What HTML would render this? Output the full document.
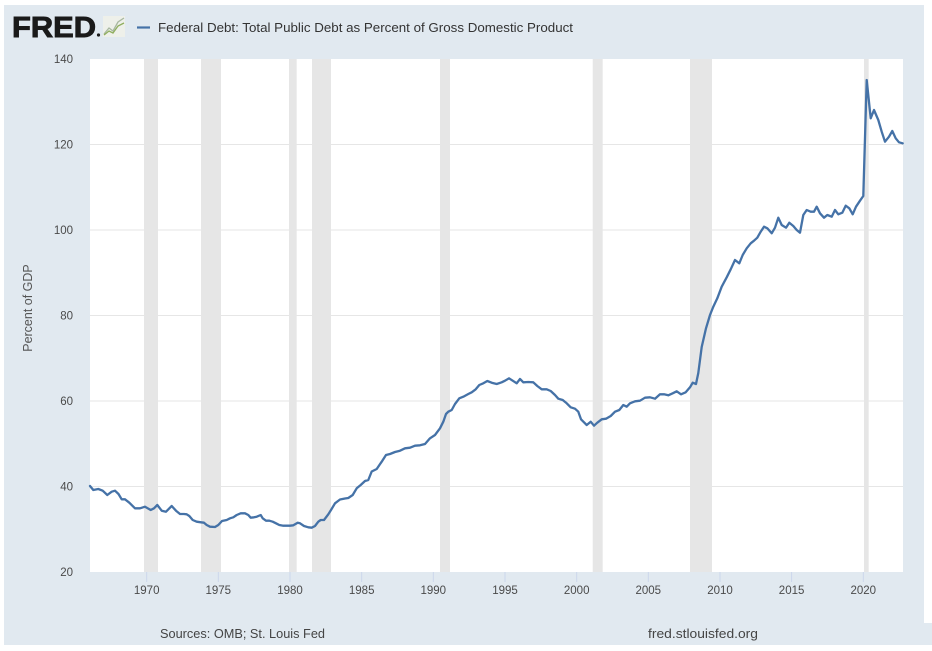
<!DOCTYPE html>
<html>
<head>
<meta charset="utf-8">
<style>
  html,body{margin:0;padding:0;background:#fff;}
  svg{display:block;}
  text{font-family:"Liberation Sans", sans-serif;}
</style>
</head>
<body>
<svg width="932" height="651" viewBox="0 0 932 651" xmlns="http://www.w3.org/2000/svg">
  <rect x="0" y="0" width="932" height="651" fill="#ffffff"/>
  <rect x="4" y="5" width="920" height="640" fill="#e1e9f0"/>
  <rect x="924" y="623" width="8" height="22" fill="#e1e9f0"/>

  <!-- Header -->
  <text x="12" y="37" font-size="29" font-weight="bold" fill="#1a1a1a" stroke="#1a1a1a" stroke-width="0.9" textLength="84" lengthAdjust="spacingAndGlyphs">FRED</text>
  <circle cx="98.5" cy="35" r="1.6" fill="#1a1a1a"/>
  <rect x="103" y="16" width="22" height="21" fill="#eef0ea"/>
  <polyline points="104,34 109,28 113,31 118,22 124,18" fill="none" stroke="#a8b8a0" stroke-width="1.3"/>
  <polyline points="104,35 109,31 113,33 118,26 124,23" fill="none" stroke="#8fae5e" stroke-width="1.3"/>
  <line x1="137" y1="27.5" x2="150" y2="27.5" stroke="#4572a7" stroke-width="2.2"/>
  <text x="158" y="32" font-size="13" fill="#333" textLength="415" lengthAdjust="spacingAndGlyphs">Federal Debt: Total Public Debt as Percent of Gross Domestic Product</text>

  <!-- Plot area -->
  <rect x="90" y="59" width="813" height="513" fill="#ffffff"/>

  <!-- Recession bands -->
  <g fill="#e6e6e6">
    <rect x="144" y="59" width="14" height="513"/>
    <rect x="201" y="59" width="20" height="513"/>
    <rect x="289" y="59" width="7.7" height="513"/>
    <rect x="312" y="59" width="19" height="513"/>
    <rect x="440" y="59" width="10" height="513"/>
    <rect x="592.7" y="59" width="10" height="513"/>
    <rect x="690" y="59" width="22" height="513"/>
    <rect x="864" y="59" width="4.7" height="513"/>
  </g>

  <!-- Grid lines -->
  <g stroke="#e6e6e6" stroke-width="1">
    <line x1="90" y1="144.5" x2="903" y2="144.5"/>
    <line x1="90" y1="230" x2="903" y2="230"/>
    <line x1="90" y1="315.5" x2="903" y2="315.5"/>
    <line x1="90" y1="401" x2="903" y2="401"/>
    <line x1="90" y1="486.5" x2="903" y2="486.5"/>
  </g>

  <!-- X ticks -->
  <g stroke="#ccd6eb" stroke-width="1">
    <line x1="146.7" y1="572" x2="146.7" y2="582"/>
    <line x1="218.3" y1="572" x2="218.3" y2="582"/>
    <line x1="290" y1="572" x2="290" y2="582"/>
    <line x1="361.7" y1="572" x2="361.7" y2="582"/>
    <line x1="433.3" y1="572" x2="433.3" y2="582"/>
    <line x1="505" y1="572" x2="505" y2="582"/>
    <line x1="576.7" y1="572" x2="576.7" y2="582"/>
    <line x1="648.3" y1="572" x2="648.3" y2="582"/>
    <line x1="720" y1="572" x2="720" y2="582"/>
    <line x1="791.6" y1="572" x2="791.6" y2="582"/>
    <line x1="863.3" y1="572" x2="863.3" y2="582"/>
  </g>

  <!-- X labels -->
  <g font-size="11.5" fill="#4a4a4a" text-anchor="middle">
    <text x="146.7" y="594">1970</text>
    <text x="218.3" y="594">1975</text>
    <text x="290" y="594">1980</text>
    <text x="361.7" y="594">1985</text>
    <text x="433.3" y="594">1990</text>
    <text x="505" y="594">1995</text>
    <text x="576.7" y="594">2000</text>
    <text x="648.3" y="594">2005</text>
    <text x="720" y="594">2010</text>
    <text x="791.6" y="594">2015</text>
    <text x="863.3" y="594">2020</text>
  </g>

  <!-- Y labels -->
  <g font-size="11.5" fill="#4a4a4a" text-anchor="end">
    <text x="73" y="63">140</text>
    <text x="73" y="148.5">120</text>
    <text x="73" y="234">100</text>
    <text x="73" y="319.5">80</text>
    <text x="73" y="405">60</text>
    <text x="73" y="490.5">40</text>
    <text x="73" y="576">20</text>
  </g>
  <text transform="translate(32,308) rotate(-90)" font-size="12.5" fill="#555" text-anchor="middle">Percent of GDP</text>

  <!-- Series -->
  <polyline fill="none" stroke="#4572a7" stroke-width="2.3" stroke-linejoin="round" stroke-linecap="round" points="
90,486 93.3,490 98.3,489 102.7,490.7 107.3,495 111.7,491.7 115,490.7 118.5,494 121.7,499.3 125,499.3 129.3,502.7 135,508.3 140,508.3 145,506.7 150.7,510 154,508.3 157.3,505 161.7,510.7 166,511.7 171.7,506 176,510.7 180,514 184,514 186.7,514.3 189.3,516 192.7,520 196.7,521.7 201,522.3 204,522.7 206.7,525 210,526.7 215,527 218.3,525 222,521 226.7,520 230,518.3 233.3,517.3 236.7,515 240.7,513.3 245,513.3 248.3,515 250.7,517.7 254,517.3 256.7,516.7 260.7,515 262.7,518.3 266,520.7 269.3,520.7 272.7,521.7 276,523.3 279.3,525 283.3,525.7 290,525.7 293.3,525.3 297.7,522.7 300,523.3 304,526 308.3,527.3 311.7,527.7 315,526 318.3,521.7 320.7,520 324,520 328.3,514.3 331,510 335,503.3 340,499.5 345,498.5 348.3,498 352.7,495 356.7,488.3 360.7,485 365,481 368.3,480 371.7,471.5 376.7,469 381.7,461.7 386,455 390,454 395,452 400,450.7 405,448.3 410,447.7 415,445.7 420,445.3 425,444 430,438.3 435,435 440,428.3 443.3,421.7 446,414 448.3,411.7 451.7,410 455,404 459.3,398.3 463.3,396.7 468.3,394 471.7,392.3 475.7,389.3 479.3,385 483.3,383.3 487.3,381 491.7,382.7 496.7,384 501.7,382.3 505,380.7 509,378.3 512.7,380.7 516.7,383.3 520,379 523.3,382.3 528.3,382 533.3,382.3 537.3,386 541.7,389.3 546.7,389.3 550.7,391 555,395 558.3,398.7 562.7,400 566.7,403.3 570.7,407.3 575,408.7 578.3,411.7 581,419.3 584,422.3 586.7,425 590.7,421.7 594,425.7 597.3,422.7 601.7,419.3 606,418.7 610.7,416 615,411.7 619.3,410 623.3,405 626.7,406.7 630,403.3 635,401.3 640,400.7 645,397.7 650,397.3 655,398.7 660,394.3 664,394.3 668.3,395.3 672.7,393.3 676.7,391.3 681,394.3 685.7,392.3 690,387.3 692.7,382.7 696,384 698.3,373 701.7,347 706,328.3 710,315 713.3,306.7 717.3,298.3 721.7,286.7 726.7,277.3 730.7,269.3 735,260 739.3,263.3 742.7,255 746.7,248.3 750.7,243.3 754,240.7 757.3,237.7 760.7,231.7 764,226.7 767.3,228.3 771.7,233.3 775,227.7 778.3,217.7 781.7,225 786,227.7 789.3,222.7 793.3,226 796.7,230 800,232.7 803.3,215 806.7,210 810.7,211.7 814,211.7 816.7,206.7 820,213.3 824,217.7 827.3,215 831.7,216.7 835,210 838.3,214.3 842.3,212.7 845.7,205.7 849.3,208.3 852.7,214.3 856,206.7 860,200.7 863.3,196 866.7,80 870.7,118.3 874,110 878.3,120 881.7,131.7 885,141.7 889,136.7 892.3,131 895.7,138.3 899,142.3 902.7,143.3"/>

  <!-- Footer -->
  <text x="160" y="638" font-size="13" fill="#444" textLength="165" lengthAdjust="spacingAndGlyphs">Sources: OMB; St. Louis Fed</text>
  <text x="648" y="638" font-size="13" fill="#444" textLength="110" lengthAdjust="spacingAndGlyphs">fred.stlouisfed.org</text>
</svg>
</body>
</html>
